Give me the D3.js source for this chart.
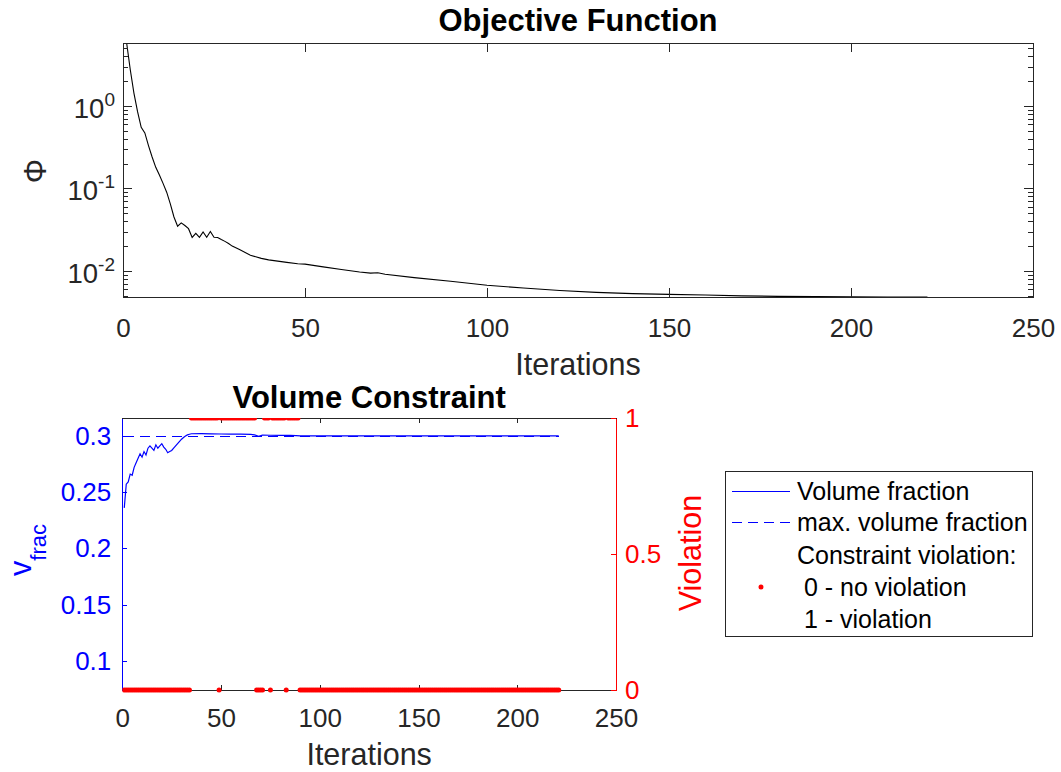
<!DOCTYPE html>
<html>
<head>
<meta charset="utf-8">
<script src="https://cdn.jsdelivr.net/npm/d3@7"></script>
<style>
  body { margin: 0; background: #fff; }
  svg { display: block; }
  text { font-family: "Liberation Sans", Arial, Helvetica, sans-serif; }
</style>
</head>
<body>
<svg id="fig" width="1061" height="772"></svg>
<script>
// ---- objective function history (log scale) ----
const objIter = [1,2,3,4,5,6,7,8,9,10,11,12,13,14,15,16,17,18,19,20,21,22,23,24,25,26,27,28,29,30,
  32,35,38,40,45,48,50,55,60,65,68,70,72,80,90,100,110,120,130,140,150,160,170,180,190,200,210,221];
const objValue = [5.78,2.74,1.43,0.85,0.55,0.47,0.33,0.24,0.18,0.145,0.115,0.09,0.065,0.045,0.0348,
  0.0382,0.0355,0.0325,0.0255,0.0285,0.0255,0.0297,0.0256,0.0300,0.0256,0.0254,0.0240,0.0228,0.0215,0.0200,
  0.0182,0.0155,0.0142,0.0136,0.0127,0.0122,0.0121,0.0112,0.0104,0.0097,0.0094,0.0095,0.0091,0.0083,
  0.0075,0.0067,0.0062,0.0058,0.0055,0.0053,0.0052,0.0051,0.00498,0.00492,0.00488,0.00486,0.00484,0.00483];

// ---- volume fraction history ----
const volIter = [1,2,3,4,5,6,7,8,9,10,11,12,13,14,15,16,17,18,19,20,21,22,23,24,25,26,27,28,29,30,31,32,33,34,35,
  40,45,50,55,60,65,67,69,71,75,80,85,88,90,100,120,150,180,200,221];
const volValue = [0.236,0.257,0.259,0.266,0.265,0.272,0.276,0.280,0.284,0.281,0.286,0.283,0.289,0.291,0.289,
  0.287,0.292,0.289,0.291,0.293,0.290,0.288,0.285,0.286,0.287,0.289,0.291,0.293,0.295,0.297,0.2985,0.2998,
  0.3008,0.3014,0.3018,0.3019,0.3017,0.3016,0.3015,0.3014,0.3012,0.3008,0.2996,0.3006,0.3005,0.3004,0.3003,
  0.3002,0.2999,0.2999,0.2999,0.2999,0.2999,0.2999,0.2999];
const volMax = 0.3;
const lastIter = 221;

// iterations flagged as violating the volume constraint (inclusive ranges)
const violationRuns = [[35,48],[50,67],[72,74],[76,82],[84,89]];

const xTicks = [0,50,100,150,200,250];
const objTicks = [1,0.1,0.01];
const volTicks = [0.1,0.15,0.2,0.25,0.3];
const violTicks = [0,0.5,1];
const legendLabels = ["Volume fraction","max. volume fraction","Constraint violation:"," 0 - no violation"," 1 - violation"];

const AX = "#262626";
const BLUE = "#0000ff";
const RED = "#ff0000";
const TICK_FS = 26, LABEL_FS = 30.5, TITLE_FS = 31;

const svg = d3.select("#fig");

function styleAxis(sel, color) {
  sel.attr("shape-rendering","crispEdges");
  sel.select(".domain").attr("stroke",color).attr("stroke-width",1);
  sel.selectAll(".tick line").attr("stroke",color);
  sel.selectAll(".tick text").attr("fill",color).attr("font-size",TICK_FS)
     .attr("font-family","'Liberation Sans', Arial, sans-serif");
}

// ================= Objective Function =================
const P1 = {l:123, r:1033, t:43, b:297};
const x1 = d3.scaleLinear().domain([0,250]).range([P1.l,P1.r]);
const y1 = d3.scaleLog().domain(d3.extent(objValue)).range([P1.b,P1.t]);

const g1 = svg.append("g");
g1.append("clipPath").attr("id","clip1").append("rect")
  .attr("x",P1.l).attr("y",P1.t).attr("width",P1.r-P1.l).attr("height",P1.b-P1.t);

g1.append("path")
  .datum(objIter.map((d,i)=>[d,objValue[i]]))
  .attr("clip-path","url(#clip1)")
  .attr("fill","none").attr("stroke","#000").attr("stroke-width",1.1)
  .attr("d", d3.line().x(d=>x1(d[0])).y(d=>y1(d[1])));

styleAxis(g1.append("g").attr("transform",`translate(0,${P1.b})`)
  .call(d3.axisBottom(x1).tickValues(xTicks).tickFormat(d3.format("d")).tickSizeInner(-9).tickSizeOuter(0).tickPadding(21.5)), AX);
styleAxis(g1.append("g").attr("transform",`translate(0,${P1.t})`)
  .call(d3.axisTop(x1).tickValues(xTicks).tickFormat("").tickSizeInner(-9).tickSizeOuter(0)), AX);

// minor log ticks for every decade in range
const [ylo, yhi] = y1.domain();
const minor = [];
for (let e = Math.floor(Math.log10(ylo)); e <= Math.ceil(Math.log10(yhi)); e++) {
  for (let m = 2; m <= 9; m++) {
    const v = m * Math.pow(10, e);
    if (v >= ylo && v <= yhi) minor.push(v);
  }
}
styleAxis(g1.append("g").attr("transform",`translate(${P1.l},0)`)
  .call(d3.axisLeft(y1).tickValues(objTicks).tickFormat("").tickSizeInner(-9).tickSizeOuter(0)), AX);
g1.append("g").attr("transform",`translate(${P1.l},0)`).attr("shape-rendering","crispEdges")
  .call(d3.axisLeft(y1).tickValues(minor).tickFormat("").tickSizeInner(-5).tickSizeOuter(0))
  .call(s=>{s.select(".domain").remove(); s.selectAll("line").attr("stroke",AX);});
styleAxis(g1.append("g").attr("transform",`translate(${P1.r},0)`)
  .call(d3.axisRight(y1).tickValues(objTicks).tickFormat("").tickSizeInner(-9).tickSizeOuter(0)), AX);
g1.append("g").attr("transform",`translate(${P1.r},0)`).attr("shape-rendering","crispEdges")
  .call(d3.axisRight(y1).tickValues(minor).tickFormat("").tickSizeInner(-5).tickSizeOuter(0))
  .call(s=>{s.select(".domain").remove(); s.selectAll("line").attr("stroke",AX);});

// power-of-ten labels with superscript exponent
objTicks.forEach(v => {
  const e = Math.round(Math.log10(v));
  const t = g1.append("text").attr("x",P1.l-8).attr("y",y1(v)+12)
    .attr("text-anchor","end").attr("fill",AX).attr("font-size",27.5);
  t.append("tspan").text("10");
  t.append("tspan").attr("font-size",19).attr("dy",-12).text(String(e));
});

g1.append("text").attr("x",(P1.l+P1.r)/2).attr("y",31)
  .attr("text-anchor","middle").attr("font-weight","bold").attr("font-size",TITLE_FS).attr("fill","#000")
  .text("Objective Function");
g1.append("text").attr("x",(P1.l+P1.r)/2).attr("y",375)
  .attr("text-anchor","middle").attr("font-size",LABEL_FS).attr("fill",AX).text("Iterations");
g1.append("text").attr("transform","translate(35,171) rotate(-90)").attr("dy","0.35em")
  .attr("text-anchor","middle").attr("font-size",LABEL_FS).attr("fill",AX)
  .attr("font-family","'Liberation Serif','DejaVu Serif',serif").text("Φ");

// ================= Volume Constraint =================
const P2 = {l:122.3, r:616, t:418, b:690};
const x2 = d3.scaleLinear().domain([0,250]).range([P2.l,P2.r]);
const y2 = d3.scaleLinear().domain([0.0743,0.3158]).range([P2.b,P2.t]);
const y2r = d3.scaleLinear().domain([0,1]).range([P2.b,P2.t]);

const g2 = svg.append("g");
g2.append("clipPath").attr("id","clip2").append("rect")
  .attr("x",P2.l).attr("y",P2.t).attr("width",P2.r-P2.l).attr("height",P2.b-P2.t+3);

// one flag per iteration, expanded from the ranges
const flags = d3.range(1,lastIter+1).map(it => ({
  it, v: violationRuns.some(([a,b]) => it>=a && it<=b) ? 1 : 0
}));

g2.append("path")
  .datum([[1,volMax],[lastIter,volMax]])
  .attr("fill","none").attr("stroke",BLUE).attr("stroke-width",1)
  .attr("stroke-dasharray","10,6").attr("shape-rendering","crispEdges")
  .attr("d", d3.line().x(d=>x2(d[0])).y(d=>Math.round(y2(d[1]))+0.5));

g2.append("path")
  .datum(volIter.map((d,i)=>[d,volValue[i]]))
  .attr("clip-path","url(#clip2)")
  .attr("fill","none").attr("stroke",BLUE).attr("stroke-width",1.2)
  .attr("d", d3.line().x(d=>x2(d[0])).y(d=>y2(d[1])));

styleAxis(g2.append("g").attr("transform",`translate(0,${P2.b})`)
  .call(d3.axisBottom(x2).tickValues(xTicks).tickFormat(d3.format("d")).tickSizeInner(-5).tickSizeOuter(0).tickPadding(18.5)), AX);
styleAxis(g2.append("g").attr("transform",`translate(0,${P2.t})`)
  .call(d3.axisTop(x2).tickValues(xTicks).tickFormat("").tickSizeInner(-5).tickSizeOuter(0)), AX);
styleAxis(g2.append("g").attr("transform",`translate(${P2.l},0)`)
  .call(d3.axisLeft(y2).tickValues(volTicks).tickFormat(d=>String(d)).tickSizeInner(-5).tickSizeOuter(0).tickPadding(11)), BLUE);
styleAxis(g2.append("g").attr("transform",`translate(${P2.r},0)`)
  .call(d3.axisRight(y2r).tickValues(violTicks).tickFormat(d=>String(d)).tickSizeInner(-5).tickSizeOuter(0).tickPadding(9)), RED);

g2.append("g").attr("clip-path","url(#clip2)")
  .selectAll("circle").data(flags).join("circle")
  .attr("cx",d=>x2(d.it)).attr("cy",d=>y2r(d.v)).attr("r",2.5).attr("fill",RED);

g2.append("text").attr("x",(P2.l+P2.r)/2).attr("y",408)
  .attr("text-anchor","middle").attr("font-weight","bold").attr("font-size",TITLE_FS).attr("fill","#000")
  .text("Volume Constraint");
g2.append("text").attr("x",(P2.l+P2.r)/2).attr("y",765)
  .attr("text-anchor","middle").attr("font-size",LABEL_FS).attr("fill",AX).text("Iterations");

const vl = g2.append("text").attr("transform","translate(31,550) rotate(-90)")
  .attr("text-anchor","middle").attr("fill",BLUE).attr("font-size",LABEL_FS);
vl.append("tspan").text("v");
vl.append("tspan").attr("font-size",22).attr("dy",15).text("frac");

g2.append("text").attr("transform","translate(690,553) rotate(-90)").attr("dy","0.35em")
  .attr("text-anchor","middle").attr("font-size",LABEL_FS).attr("fill",RED).text("Violation");

// ---- legend ----
const lg = svg.append("g");
lg.append("rect").attr("x",725.5).attr("y",471.5).attr("width",307).attr("height",165)
  .attr("fill","#fff").attr("stroke",AX).attr("stroke-width",1).attr("shape-rendering","crispEdges");
const rowY = [491, 522, 555, 587, 619];
lg.append("line").attr("x1",732).attr("x2",790).attr("y1",rowY[0]+0.5).attr("y2",rowY[0]+0.5)
  .attr("stroke",BLUE).attr("stroke-width",1).attr("shape-rendering","crispEdges");
lg.append("line").attr("x1",732).attr("x2",790).attr("y1",rowY[1]+0.5).attr("y2",rowY[1]+0.5)
  .attr("stroke",BLUE).attr("stroke-width",1).attr("stroke-dasharray","10,6").attr("shape-rendering","crispEdges");
lg.append("circle").attr("cx",761).attr("cy",rowY[3]).attr("r",2.5).attr("fill",RED);
legendLabels.forEach((s,i) => {
  lg.append("text").attr("x",797).attr("y",rowY[i]+9).attr("font-size",25).attr("fill","#000")
    .attr("xml:space","preserve").style("white-space","pre").text(s);
});
</script>
</body>
</html>
